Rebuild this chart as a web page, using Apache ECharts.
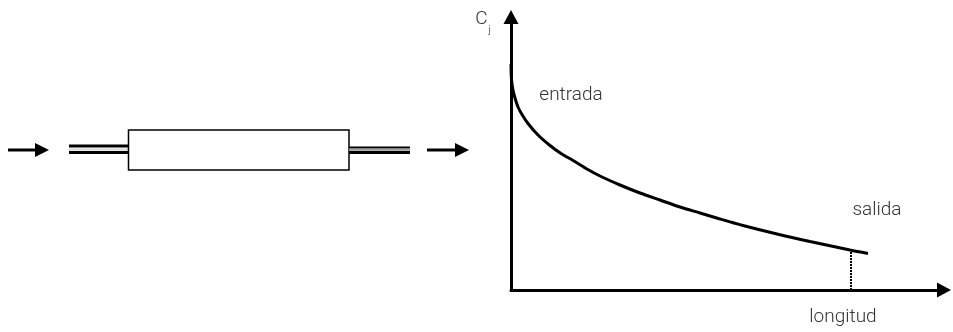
<!DOCTYPE html>
<html>
<head>
<meta charset="utf-8">
<script src="https://cdn.jsdelivr.net/npm/echarts@6/dist/echarts.min.js"></script>
<style>
html,body{margin:0;padding:0;background:#fff;}
#chart{width:953px;height:332px;}
</style>
</head>
<body>
<div id="chart"></div>
<script>
// Data (arbitrary units: x = longitud, y = concentración C_j)
var curveX = [0, 0.25, 1, 2, 4, 7, 11, 17, 27, 39, 50, 62, 75, 89, 109, 129, 149, 169, 189, 209, 232, 266, 299, 339, 357];
var curveY = [226, 214, 206, 200, 192, 183, 175.5, 166.5, 155, 144.5, 136.5, 129.5, 121.5, 114, 105, 97, 90, 83, 77, 71, 64.5, 56, 48.5, 40, 36.6];
var xMax = 433;
var yMax = 273;
var dropX = 340;      // salida position (dotted drop line)
var dropY = 40;
var xAxisName = 'longitud';
var yAxisName = 'C';
var yAxisSub = 'j';
var labelEntrada = { name: 'entrada', x: 60, y: 195 };
var labelSalida = { name: 'salida', x: 366, y: 80 };

var curve = curveX.map(function (x, i) { return [x, curveY[i]]; });

var FONT = 'Roboto, "Liberation Sans", sans-serif';
var TXT = '#333333';
var FS = 19;

var chart = echarts.init(document.getElementById('chart'), null, { renderer: 'canvas' });

var option = {
  animation: false,
  backgroundColor: '#ffffff',
  grid: { left: 511, top: 17, right: 9, bottom: 42, containLabel: false },
  xAxis: {
    type: 'value', min: 0, max: xMax,
    name: xAxisName, nameLocation: 'end', nameGap: -101,
    nameTextStyle: { fontFamily: FONT, fontSize: FS, fontWeight: 300, color: TXT,
      align: 'center', verticalAlign: 'top', padding: [18, 0, 0, 0] },
    axisLine: { show: true, onZero: false, lineStyle: { color: '#000', width: 3 },
      symbol: ['none', 'triangle'], symbolSize: [15, 14], symbolOffset: [0, 0] },
    axisTick: { show: false }, axisLabel: { show: false }, splitLine: { show: false }
  },
  yAxis: {
    type: 'value', min: 0, max: yMax,
    name: '{c|' + yAxisName + '}{j|' + yAxisSub + '}', nameLocation: 'end', nameGap: -3,
    nameTextStyle: { align: 'right', verticalAlign: 'middle', padding: [0, 20, 0, 0],
      rich: {
        c: { fontFamily: FONT, fontSize: FS, fontWeight: 300, color: TXT, verticalAlign: 'top', lineHeight: 20 },
        j: { fontFamily: FONT, fontSize: 11, fontWeight: 300, color: TXT, verticalAlign: 'top', lineHeight: 20, padding: [15, 0, 0, 1] }
      } },
    axisLine: { show: true, onZero: false, lineStyle: { color: '#000', width: 3 },
      symbol: ['none', 'triangle'], symbolSize: [15, 14], symbolOffset: [0, 0] },
    axisTick: { show: false }, axisLabel: { show: false }, splitLine: { show: false }
  },
  series: [{
    type: 'line',
    data: curve,
    smooth: 0.3,
    showSymbol: false,
    symbol: 'none',
    lineStyle: { color: '#000', width: 3 },
    markLine: {
      silent: true, symbol: ['none', 'none'], label: { show: false },
      lineStyle: { color: '#000', width: 2, type: [2, 1] },
      data: [[{ coord: [dropX, 0] }, { coord: [dropX, dropY] }]]
    },
    markPoint: {
      silent: true, symbol: 'circle', symbolSize: 0,
      label: { show: true, position: 'inside', formatter: '{b}', fontFamily: FONT, fontSize: FS, fontWeight: 300, color: TXT },
      data: [
        { name: labelEntrada.name, coord: [labelEntrada.x, labelEntrada.y] },
        { name: labelSalida.name, coord: [labelSalida.x, labelSalida.y] }
      ]
    }
  }],
  graphic: [
    // left schematic: inlet arrow
    { type: 'line', shape: { x1: 8, y1: 150, x2: 38, y2: 150 }, style: { stroke: '#000', lineWidth: 3 } },
    { type: 'polygon', shape: { points: [[35, 143], [49, 150], [35, 157]] }, style: { fill: '#000' } },
    // inlet tube (double line)
    { type: 'line', shape: { x1: 69, y1: 146, x2: 129, y2: 146 }, style: { stroke: '#000', lineWidth: 3 } },
    { type: 'line', shape: { x1: 69, y1: 149.5, x2: 129, y2: 149.5 }, style: { stroke: '#d8d8d8', lineWidth: 2 } },
    { type: 'line', shape: { x1: 69, y1: 152.5, x2: 129, y2: 152.5 }, style: { stroke: '#000', lineWidth: 3 } },
    // reactor body
    { type: 'rect', shape: { x: 128.5, y: 130, width: 220.5, height: 40 }, style: { fill: '#fff', stroke: '#000', lineWidth: 1.5 } },
    // outlet tube
    { type: 'line', shape: { x1: 349, y1: 147.5, x2: 410, y2: 147.5 }, style: { stroke: '#000', lineWidth: 2 } },
    { type: 'line', shape: { x1: 349, y1: 149.8, x2: 410, y2: 149.8 }, style: { stroke: '#999', lineWidth: 2 } },
    { type: 'line', shape: { x1: 349, y1: 152.5, x2: 410, y2: 152.5 }, style: { stroke: '#000', lineWidth: 3 } },
    // outlet arrow
    { type: 'line', shape: { x1: 427, y1: 150, x2: 457, y2: 150 }, style: { stroke: '#000', lineWidth: 3 } },
    { type: 'polygon', shape: { points: [[455, 143], [469, 150], [455, 157]] }, style: { fill: '#000' } }
  ]
};
chart.setOption(option);
</script>
</body>
</html>
